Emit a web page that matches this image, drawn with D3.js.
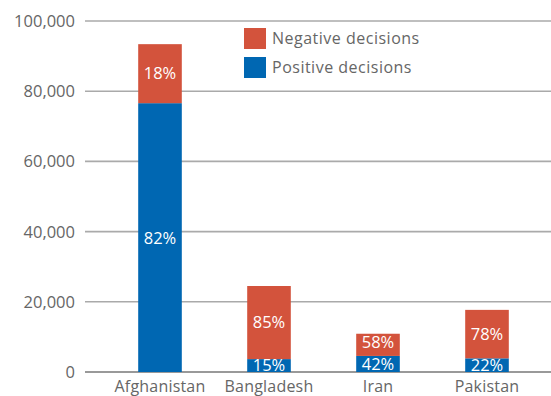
<!DOCTYPE html>
<html>
<head>
<meta charset="utf-8">
<script src="https://cdn.jsdelivr.net/npm/d3@7"></script>
<style>
  html, body { margin: 0; padding: 0; background: #fff; }
  svg { display: block; font-family: "Open Sans", "Lato", sans-serif; }
</style>
</head>
<body>
<svg id="chart" width="551" height="396"></svg>
<script>
// Asylum decisions by country of origin
const countries = ["Afghanistan", "Bangladesh", "Iran", "Pakistan"];
const totalDecisions = [93400, 24500, 10900, 17700];
const positiveShare = [82, 15, 42, 22];   // % of decisions that were positive
const yTicks = [0, 20000, 40000, 60000, 80000, 100000];
const seriesNames = ["Negative decisions", "Positive decisions"];

const colors = { neg: "#d3533c", pos: "#0067b2" };

const rows = countries.map((c, i) => {
  const pos = totalDecisions[i] * positiveShare[i] / 100;
  return {
    country: c,
    posPct: positiveShare[i],
    negPct: 100 - positiveShare[i],
    pos: pos,
    neg: totalDecisions[i] - pos
  };
});

const svg = d3.select("#chart");
const plot = { left: 85, right: 551, top: 21, bottom: 372 };

const y = d3.scaleLinear().domain([0, 100000]).range([plot.bottom, plot.top]);
const x = d3.scaleBand().domain(countries).range([105.5, 541.5]).paddingInner(0.6).paddingOuter(0.3);

// gridlines
svg.append("g")
  .selectAll("line")
  .data(yTicks)
  .join("line")
  .attr("x1", plot.left).attr("x2", plot.right)
  .attr("y1", d => y(d)).attr("y2", d => y(d))
  .attr("stroke", d => d === 0 ? "#777" : "#aaa")
  .attr("stroke-width", 1.6);

// y tick labels
svg.append("g")
  .selectAll("text")
  .data(yTicks)
  .join("text")
  .attr("x", 75)
  .attr("y", d => y(d))
  .attr("dy", "0.36em")
  .attr("text-anchor", "end")
  .attr("fill", "#666")
  .attr("font-size", 16.5)
  .text(d => d3.format(",")(d));

// stacked bars
const bars = svg.append("g").selectAll("g").data(rows).join("g");
bars.append("rect")
  .attr("x", d => x(d.country))
  .attr("width", x.bandwidth())
  .attr("y", d => y(d.pos))
  .attr("height", d => y(0) - y(d.pos))
  .attr("fill", colors.pos);
bars.append("rect")
  .attr("x", d => x(d.country))
  .attr("width", x.bandwidth())
  .attr("y", d => y(d.pos + d.neg))
  .attr("height", d => y(d.pos) - y(d.pos + d.neg))
  .attr("fill", colors.neg);

// percentage labels (small segments keep their label just above the baseline,
// and the label above it is nudged up so the two never collide)
bars.append("text")
  .attr("x", d => x(d.country) + x.bandwidth() / 2)
  .attr("y", d => Math.min(y(d.pos / 2), y(0) - 6))
  .attr("dy", "0.36em")
  .attr("text-anchor", "middle")
  .attr("fill", "#fff")
  .attr("font-size", 16.5)
  .text(d => d.posPct + "%");
bars.append("text")
  .attr("x", d => x(d.country) + x.bandwidth() / 2)
  .attr("y", d => Math.min(y(d.pos + d.neg / 2) - 0.5, y(d.pos) - 14))
  .attr("dy", "0.36em")
  .attr("text-anchor", "middle")
  .attr("fill", "#fff")
  .attr("font-size", 16.5)
  .text(d => d.negPct + "%");

// x labels
svg.append("g")
  .selectAll("text")
  .data(countries)
  .join("text")
  .attr("x", d => x(d) + x.bandwidth() / 2)
  .attr("y", 391.5)
  .attr("text-anchor", "middle")
  .attr("fill", "#666")
  .attr("font-size", 16)
  .attr("letter-spacing", 0.2)
  .text(d => d);

// legend
const legend = svg.append("g").attr("transform", "translate(244,28)");
const li = legend.selectAll("g").data(seriesNames).join("g")
  .attr("transform", (d, i) => `translate(0,${i * 29})`);
li.append("rect")
  .attr("width", 22).attr("height", 21)
  .attr("fill", (d, i) => i === 0 ? colors.neg : colors.pos);
li.append("text")
  .attr("x", 28).attr("y", 10.5)
  .attr("dy", "0.36em")
  .attr("fill", "#666")
  .attr("font-size", 16)
  .attr("letter-spacing", 0.5)
  .text(d => d);
</script>
</body>
</html>
